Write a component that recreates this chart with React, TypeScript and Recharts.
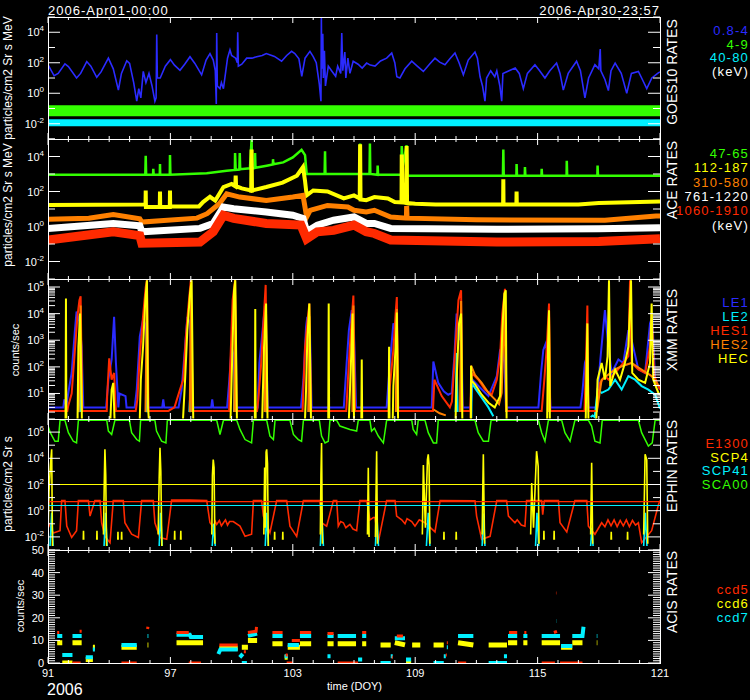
import React from "react";
import { LineChart, Line, XAxis, YAxis, ReferenceLine } from "recharts";

type Pt = [number, number] | null;

const FONT = "'Liberation Sans', Arial, sans-serif";
const BLUE = "#2b2bff";
const GREEN = "#33ff00";
const CYAN = "#00f0ff";
const YELLOW = "#ffff00";
const ORANGE = "#ff8000";
const RED = "#ff2a00";
const WHITE = "#ffffff";

// ---- axis ticks ----
const doyTicks = [
  91, 92, 93, 94, 95, 96, 97, 98, 99, 100, 101, 102, 103, 104, 105, 106, 107, 108, 109, 110,
  111, 112, 113, 114, 115, 116, 117, 118, 119, 120, 121,
];
const doyLabels = [91, 97, 103, 109, 115, 121];
const decadeTicks = [1e-3, 1e-2, 1e-1, 1, 10, 100, 1e3, 1e4, 1e5];
const decadeLabels = [1e-2, 1, 100, 1e4];
const xmmTicks = [
  2, 3, 4, 5, 6, 7, 8, 9, 10, 20, 30, 40, 50, 60, 70, 80, 90, 100, 200, 300, 400, 500, 600,
  700, 800, 900, 1000, 2000, 3000, 4000, 5000, 6000, 7000, 8000, 9000, 10000, 20000, 30000,
  40000, 50000, 60000, 70000, 80000, 90000, 100000,
];
const xmmLabels = [10, 100, 1000, 10000, 100000];
const ephinTicks = [1e-3, 1e-2, 1e-1, 1, 10, 100, 1e3, 1e4, 1e5, 1e6, 1e7];
const ephinLabels = [1e-2, 1, 100, 1e4, 1e6];
const acisTicks = [
  0, 1, 2, 3, 4, 5, 6, 7, 8, 9, 10, 11, 12, 13, 14, 15, 16, 17, 18, 19, 20, 21, 22, 23, 24, 25,
  26, 27, 28, 29, 30, 31, 32, 33, 34, 35, 36, 37, 38, 39, 40, 41, 42, 43, 44, 45, 46, 47, 48, 49, 50,
];
const acisLabels = [0, 10, 20, 30, 40, 50];

// ---- GOES10 (doy, rate) ----
const goesLow: Pt[] = [
  [91.0, 74], [91.3, 14], [91.5, 20], [91.83, 85], [92.0, 56], [92.4, 10], [92.6, 20], [92.9, 120],
  [93.1, 60], [93.39, 11], [93.6, 25], [93.96, 200], [94.2, 40], [94.45, 1.6], [94.6, 20], [94.86, 135],
  [95.0, 90], [95.2, 5], [95.35, 0.3], [95.45, 2], [95.55, 0.5], [95.67, 27], [95.8, 5], [95.95, 20],
  [96.1, 3], [96.24, 0.3], [96.3, 0.5], [96.33, 7000], [96.36, 10], [96.5, 10], [96.75, 60], [97.0, 160],
  [97.2, 70], [97.47, 32], [97.7, 80], [97.96, 250], [98.2, 90], [98.53, 16], [98.75, 150], [98.94, 400],
  [99.1, 150], [99.2, 30], [99.25, 0.2], [99.27, 9000], [99.3, 3], [99.43, 2], [99.5, 5], [99.6, 2],
  [99.8, 200], [99.92, 700], [100.0, 300], [100.2, 200], [100.28, 100], [100.3, 10000], [100.33, 60],
  [100.5, 80], [100.74, 200], [101.0, 200], [101.23, 250], [101.5, 300], [101.7, 400], [101.9, 320],
  [102.1, 260], [102.45, 126], [102.7, 300], [102.94, 560], [103.1, 400], [103.3, 180], [103.44, 13],
  [103.6, 200], [103.84, 560], [104.0, 250], [104.15, 100], [104.3, 4], [104.38, 0.3], [104.4, 100000],
  [104.42, 40], [104.47, 8000], [104.5, 10], [104.55, 600], [104.6, 3], [104.74, 60], [104.9, 30],
  [105.1, 13], [105.2, 60], [105.35, 20], [105.4, 9000], [105.45, 30], [105.55, 500], [105.6, 10],
  [105.7, 200], [105.8, 20], [105.96, 126], [106.2, 80], [106.4, 45], [106.62, 95], [106.8, 70],
  [107.03, 60], [107.3, 130], [107.6, 200], [107.85, 430], [108.0, 100], [108.1, 12], [108.25, 10],
  [108.5, 40], [108.83, 126], [109.1, 60], [109.4, 27], [109.7, 80], [109.97, 200], [110.2, 110],
  [110.46, 75], [110.7, 180], [110.95, 440], [111.15, 100], [111.36, 16], [111.6, 150], [111.93, 500],
  [112.05, 200], [112.18, 12], [112.3, 3], [112.42, 0.3], [112.5, 10], [112.7, 30], [112.9, 12],
  [113.0, 30], [113.15, 3], [113.24, 0.3], [113.3, 20], [113.6, 30], [113.9, 45], [114.1, 20],
  [114.3, 2], [114.5, 20], [114.87, 75], [115.1, 30], [115.36, 10], [115.6, 30], [115.93, 95],
  [116.1, 20], [116.26, 1.6], [116.5, 20], [116.91, 126], [117.1, 30], [117.32, 0.5], [117.5, 10],
  [117.81, 75], [118.0, 40], [118.07, 800], [118.1, 30], [118.3, 8], [118.47, 1.5], [118.6, 30],
  [118.8, 95], [119.1, 20], [119.37, 1], [119.6, 20], [119.94, 27], [120.1, 10], [120.35, 2],
  [120.6, 10], [120.9, 21], [121, 25],
];
const goesMid: Pt[] = [[91, 0.07], [101, 0.072], [111, 0.07], [121, 0.07]];
const goesHigh: Pt[] = [[91, 0.0117], [106, 0.0115], [121, 0.0117]];

// ---- ACE ----
const ace47: Pt[] = [
  [91, 900], [95.77, 900], [95.79, 11000], [95.81, 900], [96.15, 900], [96.16, 2000], [96.18, 900],
  [96.48, 900], [96.49, 3700], [96.5, 900], [96.97, 900], [96.98, 12000], [97.0, 900], [98.78, 1100],
  [99.76, 1550], [100.16, 1700], [100.17, 16000], [100.2, 1700], [100.38, 1800], [100.4, 16000],
  [100.42, 1900], [100.9, 2100], [100.98, 100000], [101.0, 2100], [101.14, 2200], [101.15, 16000],
  [101.17, 2300], [101.72, 3000], [102.02, 3500], [102.03, 7000], [102.05, 3600], [102.53, 4600],
  [103.0, 8800], [103.43, 24000], [103.6, 12000], [103.68, 1000], [104.56, 1000], [104.58, 20000],
  [104.6, 1000], [106.28, 1000], [106.3, 56000], [106.32, 1000], [106.76, 1000], [106.78, 56000],
  [106.8, 1000], [107.15, 900], [107.16, 3000], [107.18, 900], [108.32, 900], [108.34, 40000],
  [108.4, 3000], [108.58, 44000], [108.62, 800], [113.3, 800], [113.32, 25000], [113.34, 800],
  [113.96, 800], [113.97, 3700], [113.99, 800], [114.37, 800], [114.38, 2500], [114.4, 800],
  [115.19, 800], [115.2, 2000], [115.22, 800], [116.42, 800], [116.43, 5700], [116.45, 800],
  [117.93, 800], [117.94, 3000], [117.96, 800], [121, 800],
];
const ace112: Pt[] = [
  [91, 17], [95.7, 18], [95.78, 18], [95.79, 115], [95.8, 13], [96.48, 13], [96.49, 100], [96.5, 13],
  [96.97, 13], [96.98, 115], [96.99, 14], [98.4, 14], [98.6, 25], [98.94, 50], [99.2, 30], [99.6, 180],
  [100.0, 270], [100.18, 200], [100.2, 800], [100.22, 200], [100.5, 150], [100.96, 115], [100.98, 25000],
  [101.0, 115], [101.7, 180], [102.5, 320], [103.2, 800], [103.5, 2500], [103.6, 400], [103.68, 60],
  [104.0, 115], [104.7, 100], [105.5, 40], [106.0, 60], [106.28, 40], [106.3, 50000], [106.32, 35],
  [106.6, 32], [107.0, 48], [107.66, 40], [108.0, 25], [108.33, 24], [108.34, 13000], [108.4, 24],
  [108.57, 22], [108.58, 40000], [108.6, 22], [109.0, 20], [110, 18], [113.31, 18], [113.32, 500],
  [113.33, 18], [113.96, 18], [113.97, 100], [113.98, 18], [117, 18], [118, 22], [121, 27],
];
const ace310: Pt[] = [
  [91, 2.6], [93, 3], [94.2, 4.8], [95.5, 2.8], [95.6, 1.8], [98.3, 3], [98.8, 5.4], [99.4, 20],
  [99.76, 74], [100.4, 48], [101.7, 31], [103.0, 48], [103.5, 60], [103.68, 3.5], [103.85, 8.4],
  [104.7, 16], [105.7, 13], [106.0, 8.5], [106.6, 6.8], [107.0, 8.5], [107.8, 3.5], [108.57, 3],
  [108.58, 15], [108.6, 3], [112, 2.4], [118.3, 2.3], [120.8, 4], [121, 4],
];
const ace761: Pt[] = [
  [91, 0.78], [94.2, 1.5], [95.5, 1.1], [95.6, 0.5], [98.45, 0.78], [99.1, 1.5], [99.6, 13],
  [100.1, 10.4], [101.7, 6.8], [103.0, 4.4], [103.5, 2.9], [103.68, 0.5], [104.2, 1.2], [105.0, 2.3],
  [106.0, 3.5], [106.6, 1.5], [107.0, 1.5], [107.8, 0.78], [113, 0.7], [118, 0.75], [121, 0.85],
];
const ace1060: Pt[] = [
  [91, 0.17], [94.2, 0.5], [95.5, 0.3], [95.6, 0.11], [98.45, 0.13], [99.1, 0.5], [99.6, 4.4],
  [100.1, 2.9], [101.7, 1.5], [103.4, 1.2], [103.68, 0.2], [104.2, 0.5], [105.0, 0.6], [106.0, 1.2],
  [106.6, 0.5], [107.0, 0.4], [107.8, 0.17], [113, 0.13], [118, 0.14], [121, 0.2],
];

// ---- XMM ----
const xmmLe1: Pt[] = [
  [91, 3], [91.75, 3], [91.8, 6], [91.9, 3.5], [91.99, 10], [92.16, 60], [92.32, 2400], [92.4, 12000],
  [92.54, 5000], [92.65, 570], [92.73, 3], [93.85, 3], [93.96, 33], [94.12, 190], [94.24, 7600],
  [94.33, 140], [94.45, 3], [94.5, 10], [94.8, 8], [94.85, 3], [95.25, 3], [95.35, 14], [95.5, 1400],
  [95.67, 6600], [95.8, 3200], [95.92, 3], [96.6, 3], [96.65, 6], [96.7, 3], [97.4, 3], [97.55, 14],
  [97.72, 570], [97.83, 7600], [97.96, 4300], [98.09, 3], [99.0, 3], [99.05, 6], [99.1, 3], [99.78, 3],
  [99.89, 33], [100.0, 570], [100.08, 300], [100.22, 3], [101.28, 3], [101.36, 140], [101.47, 1000],
  [101.59, 8800], [101.69, 2400], [101.77, 3], [103.4, 3], [103.52, 33], [103.65, 3200], [103.71, 7600],
  [103.84, 2400], [103.92, 3], [105.5, 3], [105.64, 140], [105.75, 2400], [105.89, 13500], [106.0, 1800],
  [106.1, 3], [107.6, 3], [107.76, 140], [107.93, 4300], [108.04, 2400], [108.14, 3], [109.81, 3],
  [109.89, 160], [110.13, 25], [110.4, 12], [110.62, 9], [110.79, 10.5], [110.92, 250], [111.03, 10000],
  [111.15, 1000], [111.25, 7600], [111.33, 3], [111.72, 3], [111.8, 33], [112.1, 19], [112.59, 8],
  [113.0, 45], [113.16, 430], [113.27, 570], [113.37, 140], [113.45, 3], [115.04, 3], [115.17, 59],
  [115.28, 430], [115.4, 750], [115.53, 190], [115.63, 3], [117.1, 3], [117.19, 10], [117.32, 140],
  [117.42, 250], [117.49, 3], [117.9, 3], [118.06, 140], [118.3, 13500], [118.47, 570], [118.63, 59],
  [118.96, 190], [119.2, 140], [119.45, 2400], [119.61, 1000], [119.94, 80], [120.27, 59], [120.51, 4300],
  [120.62, 7600], [120.76, 33], [121, 14],
];
const xmmLe2: Pt[] = [
  [92.5, 2], [92.57, 50], [92.62, 2], null, [95.8, 2], [95.84, 10], [95.88, 2], null, [97.93, 2],
  [97.96, 6], [98.0, 2], null, [100.12, 2], [100.17, 250], [100.21, 2], null, [101.66, 2], [101.69, 8],
  [101.72, 2], null, [103.78, 2], [103.81, 10], [103.84, 2], null, [110.98, 2], [111.03, 330],
  [111.08, 2], null, [111.75, 1.2], [111.77, 25], [111.93, 16], [112.26, 7], [112.59, 3], [112.83, 1.4],
  null, [117.6, 1.3], [117.7, 1.5], [117.8, 1.3], [117.94, 14], [118.14, 10.5], [118.47, 14], [118.8, 33],
  [119.12, 14], [119.45, 45], [119.78, 33], [120.1, 19], [120.43, 14], [120.76, 9], [121, 2.7],
];
const xmmHes1: Pt[] = [
  [91, 2.2], [91.95, 2.2], [91.99, 3.4], [92.16, 10], [92.32, 430], [92.44, 7600], [92.54, 32000],
  [92.6, 45000], [92.68, 2.2], [93.88, 2.2], [93.9, 8], [94.0, 210], [94.12, 33], [94.24, 59],
  [94.33, 2.2], [95.3, 2.2], [95.38, 6], [95.5, 250], [95.67, 10000], [95.79, 100000], [95.85, 180000],
  [95.93, 2.2], [96.9, 2.2], [97.2, 3], [97.47, 14], [97.63, 33], [97.76, 1400], [97.88, 18000],
  [98.0, 180000], [98.09, 2.2], [99.88, 2.2], [99.92, 59], [100.05, 32000], [100.17, 180000],
  [100.25, 2.2], [101.25, 2.2], [101.31, 6], [101.44, 105], [101.56, 4300], [101.67, 120000],
  [101.75, 2.2], [103.48, 2.2], [103.6, 570], [103.71, 4300], [103.81, 24000], [103.9, 2.2],
  [105.62, 2.2], [105.72, 59], [105.84, 1800], [105.97, 48000], [106.05, 2.2], [107.7, 2.2],
  [107.76, 19], [107.93, 430], [108.04, 10000], [108.1, 42000], [108.17, 2.2], [109.87, 2.2],
  [109.94, 33], [110.3, 8], [110.7, 3], [110.8, 5], [110.95, 330], [111.12, 32000], [111.25, 75000],
  [111.31, 2.2], [111.7, 2.2], [111.77, 59], [112.1, 33], [112.42, 14], [112.75, 9], [113.0, 33],
  [113.16, 250], [113.27, 10000], [113.4, 86000], [113.48, 2.2], [115.2, 2.2], [115.33, 33],
  [115.45, 570], [115.56, 24000], [115.62, 2.2], [117.3, 2.2], [117.37, 140], [117.44, 20000],
  [117.49, 2.2], [117.9, 2.2], [118.06, 25], [118.3, 45], [118.47, 33], [118.8, 59], [119.2, 140],
  [119.45, 250], [119.53, 180000], [119.61, 140], [119.94, 80], [120.27, 59], [120.51, 570],
  [120.59, 10000], [120.72, 45], [120.92, 19], [121, 14],
];
const xmmHes2: Pt[] = [
  [92.5, 2], [92.56, 1000], [92.6, 20000], [92.66, 2], null, [95.78, 2], [95.84, 30000], [95.9, 2], null,
  [97.95, 2], [98.0, 50000], [98.06, 2], null, [100.13, 2], [100.17, 50000], [100.22, 2], null,
  [101.62, 2], [101.67, 20000], [101.72, 2], null, [103.76, 2], [103.81, 8000], [103.86, 2], null,
  [105.92, 2], [105.97, 20000], [106.02, 2], null, [108.05, 2], [108.1, 15000], [108.15, 2], null,
  [109.9, 2.5], [110.2, 1.8], [110.5, 1.5], null, [111.2, 2], [111.25, 30000], [111.3, 2], null,
  [111.72, 1.2], [111.74, 110], [111.93, 50], [112.26, 25], [112.59, 10.5], [112.91, 6], [113.11, 4],
  [113.24, 10.5], [113.37, 30000], [113.46, 2], null, [115.52, 2], [115.56, 8000], [115.6, 2], null,
  [117.9, 2], [118.14, 33], [118.8, 80], [119.12, 105], [119.61, 140], [119.94, 95], [120.27, 65],
  [120.59, 45], [120.92, 20], [121, 19],
];
const xmmHec: Pt[] = [
  [91.86, 1.15], [91.88, 37000], [91.9, 1.15], null, [92.45, 1.15], [92.49, 570], [92.57, 10000],
  [92.63, 33], [92.66, 1.15], null, [94.06, 1.15], [94.12, 14], [94.2, 25], [94.26, 1.15], null,
  [95.5, 1.15], [95.55, 33], [95.66, 570], [95.77, 32000], [95.85, 180000], [95.9, 3.4], [95.94, 1.15],
  null, [97.62, 1.15], [97.72, 33], [97.83, 2400], [97.96, 56000], [98.04, 180000], [98.12, 1.15], null,
  [99.95, 1.15], [100.0, 33], [100.12, 75000], [100.18, 180000], [100.26, 1.15], null, [101.14, 1.15],
  [101.16, 15000], [101.18, 1.15], null, [101.5, 1.15], [101.59, 570], [101.69, 24000], [101.76, 1.15],
  null, [103.6, 1.15], [103.65, 14], [103.71, 1000], [103.81, 24000], [103.89, 1.15], null,
  [104.74, 1.15], [104.76, 24000], [104.78, 1.15], null, [105.75, 1.15], [105.84, 80], [105.93, 10000],
  [106.0, 1.15], null, [106.36, 1.15], [106.38, 190], [106.4, 1.15], null, [107.7, 1.15], [107.72, 570],
  [107.74, 1.15], null, [107.9, 1.15], [107.93, 19], [108.04, 570], [108.1, 11000], [108.16, 1.15], null,
  [110.98, 1.15], [111.03, 33], [111.15, 4300], [111.25, 10000], [111.31, 1.15], null, [111.73, 1.15],
  [111.74, 110], [111.77, 30], [111.93, 22], [112.26, 9], [112.59, 4.5], [112.9, 3], [113.16, 8],
  [113.27, 2400], [113.37, 56000], [113.44, 75000], [113.48, 1.15], null, [115.47, 1.15], [115.51, 570],
  [115.56, 13500], [115.6, 1.15], null, [117.36, 1.15], [117.39, 33], [117.44, 4300], [117.49, 1.15],
  null, [117.88, 1.15], [117.94, 33], [118.14, 140], [118.3, 33], [118.43, 250], [118.5, 180000],
  [118.56, 19], [118.8, 80], [119.04, 33], [119.28, 140], [119.45, 570], [119.58, 180000], [119.64, 59],
  [119.94, 33], [120.27, 25], [120.51, 140], [120.59, 24000], [120.67, 33], [120.92, 10.5], [121, 9],
];

// ---- EPHIN ----
const ephE1300: Pt[] = [
  [91.02, 0.12], [91.26, 0.02], [91.59, 0.03], [91.67, 6], [91.83, 6], [91.92, 0.066], [92.16, 0.009],
  [92.4, 0.03], [92.49, 6], [92.98, 6], [93.06, 0.39], [93.3, 6], [93.55, 6], [93.63, 0.12],
  [93.79, 0.011], [94.04, 0.0036], [94.2, 6], [94.69, 6], [94.77, 0.12], [95.1, 0.016], [95.43, 0.009],
  [95.59, 6], [96.16, 6], [96.24, 0.12], [96.49, 0.009], [96.82, 0.0065], [97.06, 6.4], [97.96, 6.4],
  [98.78, 6], [98.94, 0.12], [99.1, 0.06], [99.2, 0.15], [99.27, 0.09], [99.4, 0.18], [99.5, 0.07],
  [99.6, 0.12], [99.7, 0.2], [99.8, 0.08], [99.9, 0.15], [100.08, 0.15], [100.41, 0.066],
  [100.66, 0.011], [100.98, 0.016], [101.07, 6], [101.47, 6], [101.56, 0.39], [101.88, 0.021],
  [102.21, 6], [102.7, 6], [102.86, 0.066], [103.19, 0.011], [103.52, 6], [104.33, 6], [104.41, 0.12],
  [104.66, 0.066], [104.99, 6], [105.15, 6], [105.23, 0.066], [105.35, 0.15], [105.48, 0.12],
  [105.6, 0.05], [105.8, 0.09], [105.95, 0.04], [106.13, 0.03], [106.29, 6], [106.62, 6], [106.78, 0.2],
  [106.95, 0.3], [107.03, 0.3], [107.19, 0.004], [107.6, 6], [108.01, 6], [108.09, 0.39], [108.34, 0.2],
  [108.5, 0.1], [108.6, 0.25], [108.83, 0.15], [108.99, 0.066], [109.2, 0.2], [109.48, 0.12],
  [109.97, 0.024], [110.22, 6], [111.93, 5.8], [112.01, 0.39], [112.26, 0.0065], [112.67, 0.011],
  [113.0, 6], [113.48, 6], [113.57, 0.39], [113.89, 0.12], [114.0, 0.2], [114.2, 0.08], [114.38, 0.066],
  [114.46, 6], [115.2, 6], [115.25, 0.5], [115.33, 6], [116.02, 6], [116.1, 0.12], [116.43, 0.024],
  [116.83, 6], [117.41, 6], [117.49, 0.066], [117.81, 0.016], [118.14, 0.12], [118.3, 0.06],
  [118.45, 0.2], [118.6, 0.07], [118.75, 0.2], [118.9, 0.06], [119.05, 0.18], [119.2, 0.07],
  [119.35, 0.2], [119.5, 0.06], [119.65, 0.18], [119.8, 0.08], [119.94, 0.12], [120.1, 0.0036],
  [120.59, 0.03], [120.92, 2.7], [121, 6],
];
const ephScp4: Pt[] = [
  [91.0, 0.01], [91.05, 30], [91.12, 3000], [91.18, 48000], [91.22, 0.002], null, [93.72, 0.015],
  [93.76, 200], [93.79, 48000], [93.83, 500], [93.87, 0.002], null, [96.4, 0.015], [96.45, 300],
  [96.49, 63000], [96.53, 1000], [96.58, 0.002], null, [99.03, 0.015], [99.06, 500], [99.1, 8000],
  [99.14, 2000], [99.18, 0.003], null, [101.58, 0.015], [101.62, 2000], [101.65, 0.05], [101.69, 30000],
  [101.72, 48000], [101.76, 4000], [101.8, 0.002], null, [104.35, 0.015], [104.38, 500],
  [104.41, 150000], [104.45, 0.003], null, [106.66, 0.015], [106.7, 1900], [106.74, 0.01], null,
  [107.05, 0.01], [107.11, 35000], [107.15, 0.003], null, [109.35, 0.015], [109.4, 3100], [109.5, 0.05],
  [109.6, 8000], [109.64, 20000], [109.68, 3000], [109.72, 0.003], null, [112.28, 0.015],
  [112.34, 20000], [112.4, 0.003], null, [114.66, 0.015], [114.71, 130], [114.8, 0.05], [114.95, 35000],
  [115.03, 2400], [115.07, 0.003], null, [117.6, 0.015], [117.65, 4600], [117.7, 0.003], null,
  [120.2, 0.015], [120.27, 20000], [120.35, 8000], [120.4, 0.003], null,
  // short blips around 1e-2
  [92.73, 0.006], [92.74, 0.03], [92.75, 0.006], null, [93.39, 0.006], [93.4, 0.03], [93.41, 0.006], null,
  [94.42, 0.006], [94.43, 0.025], [94.44, 0.006], null, [94.6, 0.006], [94.61, 0.025], [94.62, 0.006], null,
  [97.2, 0.006], [97.21, 0.03], [97.22, 0.006], null, [97.5, 0.006], [97.51, 0.03], [97.52, 0.006], null,
  [102.1, 0.006], [102.11, 0.025], [102.12, 0.006], null, [102.5, 0.006], [102.51, 0.025], [102.52, 0.006], null,
  [110.4, 0.006], [110.41, 0.025], [110.42, 0.006], null, [111.0, 0.006], [111.01, 0.025], [111.02, 0.006], null,
  [115.3, 0.006], [115.31, 0.03], [115.32, 0.006], null, [115.8, 0.006], [115.81, 0.03], [115.82, 0.006], null,
  [118.6, 0.006], [118.61, 0.025], [118.62, 0.006], null, [119.4, 0.006], [119.41, 0.025], [119.42, 0.006],
];
const ephScp41: Pt[] = [
  [91.1, 0.002], [91.18, 0.7], [91.25, 0.002], null, [93.75, 0.002], [93.82, 0.7], [93.9, 0.002], null,
  [96.45, 0.002], [96.52, 0.7], [96.6, 0.002], null, [99.05, 0.002], [99.12, 0.1], [99.2, 0.002], null,
  [101.65, 0.002], [101.72, 0.7], [101.8, 0.002], null, [104.35, 0.002], [104.42, 0.7], [104.5, 0.002],
  null, [107.05, 0.002], [107.12, 0.5], [107.2, 0.002], null, [109.55, 0.002], [109.64, 0.7],
  [109.72, 0.002], null, [112.28, 0.002], [112.35, 0.6], [112.42, 0.002], null, [114.9, 0.002],
  [114.97, 0.7], [115.05, 0.002], null, [117.6, 0.002], [117.66, 0.05], [117.72, 0.002], null,
  [120.2, 0.002], [120.28, 0.7], [120.36, 0.002],
];
const ephSca00: Pt[] = [
  [91, 3e6], [91.1, 1e6], [91.34, 2e5], [91.5, 2e5], [91.59, 8e6], [91.83, 8e6], [92.0, 9e5],
  [92.24, 2e5], [92.4, 1.5e5], [92.49, 8e6], [93.88, 8e6], [93.96, 1.2e6], [94.12, 6.6e5], [94.28, 8e6],
  [94.99, 8e6], [95.1, 9e5], [95.35, 2.7e5], [95.48, 2e5], [95.54, 8e6], [96.24, 8e6], [96.32, 1.2e6],
  [96.57, 2e5], [96.78, 1.5e5], [96.85, 8e6], [99.27, 8e6], [99.43, 6.6e5], [99.6, 8e6], [100.25, 8e6],
  [100.41, 1.6e6], [100.66, 2.7e5], [100.98, 1.5e5], [101.07, 8e6], [101.72, 8e6], [101.88, 5e5],
  [102.05, 2.7e5], [102.13, 8e6], [102.86, 8e6], [103.03, 6.6e5], [103.27, 2.7e5], [103.43, 2e5],
  [103.52, 8e6], [104.3, 8e6], [104.41, 5e5], [104.58, 1.5e5], [104.74, 2e5], [104.82, 8e6],
  [105.15, 8e6], [105.31, 2.9e6], [105.8, 1.6e6], [106.13, 1.2e6], [106.21, 8e6], [106.78, 8e6],
  [106.86, 1.2e6], [107.0, 2e6], [107.19, 5e5], [107.44, 1.5e5], [107.6, 8e6], [108.83, 8e6],
  [108.9, 1.6e6], [109.07, 6.6e5], [109.15, 8e6], [109.48, 8e6], [109.64, 9e5], [109.89, 1.5e5],
  [110.05, 1.5e5], [110.13, 8e6], [111.93, 8e6], [112.09, 9e5], [112.34, 2e5], [112.59, 2e5],
  [112.72, 8e6], [115.04, 8e6], [115.2, 9e5], [115.36, 2e5], [115.53, 8e6], [116.18, 8e6],
  [116.34, 9e5], [116.59, 2e5], [116.83, 8e6], [117.49, 8e6], [117.65, 2.9e6], [117.81, 2e5],
  [118.06, 1.5e5], [118.17, 8e6], [119.94, 8e6], [120.1, 9e5], [120.43, 8.5e4], [120.62, 1.5e5],
  [120.76, 8e6], [121, 8e6],
];
const ephLimitScp4 = 100;
const ephLimitE1300 = 5;
const ephLimitScp41 = 2.5;

// ---- ACIS ----
const acisCcd5: Pt[] = [
  [91.45, 13.5], [91.55, 13.5], null, [92.55, 14], [92.65, 14], null, [95.88, 15], [95.9, 16], null,
  [97.3, 13.5], [97.9, 13.5], null, [99.4, 8], [100.3, 8], null, [100.6, 5], [100.7, 5], null,
  [100.8, 13.5], [101.2, 14], [101.22, 16], null, [102.0, 13.5], [102.5, 13.5], null, [102.65, 3.5],
  [102.75, 3.5], null, [102.95, 10], [103.35, 10], null, [103.35, 13.5], [103.9, 13.5], null,
  [104.7, 13], [105.0, 13], null, [106.4, 13.5], [106.6, 13.5], null, [107.85, 2.5], [107.9, 2.5], null,
  [108.1, 12], [108.4, 12], null, [110.5, 3.5], [110.55, 3.5], null, [110.55, 9], [110.6, 9], null,
  [113.6, 13.5], [114.0, 13.5], null, [114.35, 13.5], [114.45, 13.5], null, [115.8, 13.5], [115.95, 14],
  null, [115.9, 31], [115.92, 31], null, [92.2, 0], [92.6, 0], null, [94.6, 0], [95.35, 0], null,
  [97.9, 0], [98.5, 0], null, [102.7, 0], [103.0, 0], null, [105.2, 0], [106.2, 0], null, [111.1, 0],
  [111.5, 0], null, [115.2, 0], [115.85, 0], null, [116.1, 0], [117.2, 0],
];
const acisCcd6: Pt[] = [
  [91.45, 9], [91.7, 9], null, [92.2, 9], [92.65, 9], null, [92.85, 1.5], [93.2, 1.5], null, [93.2, 7],
  [93.3, 7], null, [94.6, 7], [95.35, 7], null, [95.88, 8], [95.92, 8], null, [97.3, 9], [98.6, 9], null,
  [99.4, 6.5], [100.3, 6.5], null, [100.5, 7], [100.8, 7], null, [100.8, 10], [101.25, 10], null,
  [102.0, 8.5], [102.5, 8.5], null, [102.6, 2.5], [102.75, 2.5], null, [102.75, 7], [103.35, 7], null,
  [103.35, 8.5], [103.9, 8.5], null, [104.7, 8.5], [105.0, 8.5], null, [105.2, 8.5], [106.1, 8.5], null,
  [106.4, 8.5], [106.6, 8.5], null, [107.3, 8], [107.8, 8], null, [108.0, 9], [108.5, 8], null,
  [108.85, 8], [109.25, 8], null, [109.9, 8], [110.4, 8], null, [111.1, 9], [111.85, 8], null,
  [112.6, 8], [113.5, 8], null, [113.55, 9], [114.0, 9], null, [114.3, 9], [114.5, 9], null, [115.2, 9],
  [116.1, 9], null, [116.15, 7], [116.7, 7], null, [116.7, 9], [117.2, 9], null, [117.9, 9],
  [117.93, 9], null, [91.7, 0], [92.2, 0], null, [108.55, 0], [108.8, 0],
];
const acisCcd7: Pt[] = [
  [91.45, 12], [91.7, 12], null, [91.7, 3.5], [92.2, 3.5], null, [92.2, 12], [92.65, 12], null,
  [92.85, 2.5], [93.2, 2.5], null, [93.2, 6], [93.3, 6], null, [94.6, 8], [95.35, 8], null, [95.88, 12],
  [95.92, 12], null, [97.3, 12.5], [97.95, 12.5], [98.0, 11.5], [98.6, 11.5], null, [99.35, 4],
  [99.45, 6], [100.3, 6], null, [100.4, 2.5], [100.55, 4], null, [100.8, 12], [101.25, 13], null,
  [102.0, 12], [102.5, 12], null, [102.6, 3], [102.75, 3], null, [102.75, 8], [103.3, 8], null,
  [103.35, 12], [103.9, 12], null, [104.7, 12], [105.0, 12], null, [104.7, 3], [104.85, 3], null,
  [105.2, 12], [106.1, 12], null, [106.2, 1.5], [106.4, 1.5], null, [106.4, 12], [106.6, 12], null,
  [107.8, 3], [107.9, 3], null, [108.0, 11], [108.5, 11], null, [108.55, 1.5], [108.8, 1.5], null,
  [110.4, 3], [110.5, 3], null, [110.55, 7], [110.6, 7], null, [111.1, 12], [111.85, 12], null,
  [113.35, 3], [113.5, 3], null, [113.55, 12], [114.0, 12], null, [114.3, 12], [114.5, 12], null,
  [115.2, 12], [116.1, 12], null, [115.92, 18.6], [115.93, 18.6], null, [116.15, 7.5], [116.7, 7.5],
  null, [116.7, 12], [117.2, 12], [117.25, 16], null, [117.9, 12], [117.93, 12], null, [100.5, 0],
  [100.75, 0], null, [107.3, 0], [107.8, 0], null, [109.9, 0], [110.4, 0], null, [112.6, 0], [113.5, 0],
];

// ---- legends ----
const goesNames = ["0.8-4", "4-9", "40-80", "(keV)"];
const goesColors = [BLUE, GREEN, CYAN, WHITE];
const aceNames = ["47-65", "112-187", "310-580", "761-1220", "1060-1910", "(keV)"];
const aceColors = [GREEN, YELLOW, ORANGE, WHITE, RED, WHITE];
const xmmNames = ["LE1", "LE2", "HES1", "HES2", "HEC"];
const xmmColors = [BLUE, CYAN, RED, ORANGE, YELLOW];
const ephNames = ["E1300", "SCP4", "SCP41", "SCA00"];
const ephColors = [RED, YELLOW, CYAN, GREEN];
const acisNames = ["ccd5", "ccd6", "ccd7"];
const acisColors = [RED, YELLOW, CYAN];

const rows = (pts: Pt[]) => {
  let last = 91;
  return pts.map((p) => {
    if (!p) return { x: last, y: null };
    last = p[0];
    return { x: p[0], y: p[1] };
  });
};

const PLOT_L = 48;
const PLOT_R = 660;

const pow10 = (v: number) => {
  const e = Math.round(Math.log10(v));
  return (
    <>
      10<tspan dy={-5} fontSize={8}>{e}</tspan>
    </>
  );
};
const plain = (v: number) => <>{v}</>;

type PanelProps = {
  top: number;
  bottom: number;
  scale: "log" | "linear";
  domain: [number, number];
  ticks: number[];
  labelled: number[];
  fmt: (v: number) => React.ReactNode;
  xLabels?: boolean;
  children: React.ReactNode;
};

function Panel({ top, bottom, scale, domain, ticks, labelled, fmt, xLabels, children }: PanelProps) {
  const padT = 10;
  const padB = xLabels ? 24 : 6;
  const h = bottom - top;

  // axes get 1px of room (a 0px axis is not drawn), taken back from the margins
  const yTick = (p: any) => {
    const v = p.payload.value;
    const big = labelled.includes(v);
    const len = big ? 12 : 7;
    return (
      <g>
        <line x1={PLOT_L} x2={PLOT_L + len} y1={p.y} y2={p.y} stroke={WHITE} />
        <line x1={PLOT_R - len} x2={PLOT_R} y1={p.y} y2={p.y} stroke={WHITE} />
        {big && (
          <text x={PLOT_L - 4} y={p.y + 4} textAnchor="end" fill={WHITE} fontSize={11} fontFamily={FONT}>
            {fmt(v)}
          </text>
        )}
      </g>
    );
  };

  const xTick = (p: any) => {
    const v = p.payload.value;
    const big = doyLabels.includes(v);
    const len = big ? 6 : 3;
    const yb = padT + h;
    return (
      <g>
        <line x1={p.x} x2={p.x} y1={yb} y2={yb - len} stroke={WHITE} />
        <line x1={p.x} x2={p.x} y1={padT} y2={padT + len} stroke={WHITE} />
        {xLabels && big && (
          <text x={p.x} y={yb + 14} textAnchor="middle" fill={WHITE} fontSize={11} fontFamily={FONT}>
            {v}
          </text>
        )}
      </g>
    );
  };

  return (
    <div style={{ position: "absolute", left: 0, top: top - padT }}>
      <LineChart
        width={750}
        height={h + padT + padB}
        margin={{ top: padT, bottom: padB - 1, left: PLOT_L - 1, right: 750 - PLOT_R }}
      >
        <XAxis
          dataKey="x"
          type="number"
          domain={[91, 121]}
          ticks={doyTicks}
          interval={0}
          allowDataOverflow
          height={1}
          tickSize={0}
          tickMargin={0}
          axisLine={false}
          tickLine={false}
          tick={xTick}
        />
        <YAxis
          type="number"
          scale={scale}
          domain={domain}
          ticks={ticks}
          interval={0}
          allowDataOverflow
          width={1}
          tickSize={0}
          tickMargin={0}
          axisLine={false}
          tickLine={false}
          tick={yTick}
        />
        {children}
      </LineChart>
    </div>
  );
}

const series = (pts: Pt[], color: string, width: number) => (
  <Line
    data={rows(pts)}
    dataKey="y"
    stroke={color}
    strokeWidth={width}
    dot={false}
    connectNulls={false}
    isAnimationActive={false}
    type="linear"
  />
);

const FRAMES: [number, number][] = [[17, 139], [139, 279], [279, 419], [419, 550], [550, 663]];

function Legend({ names, colors, y0, step }: { names: string[]; colors: string[]; y0: number; step: number }) {
  return (
    <>
      {names.map((n, i) => (
        <text
          key={n}
          x={749}
          y={y0 + i * step}
          textAnchor="end"
          fill={colors[i]}
          fontSize={13}
          letterSpacing={1.2}
          fontFamily={FONT}
        >
          {n}
        </text>
      ))}
    </>
  );
}

function SideLabel({ x, y, text, size }: { x: number; y: number; text: string; size: number }) {
  return (
    <text
      transform={`translate(${x},${y}) rotate(-90)`}
      textAnchor="middle"
      fill={WHITE}
      fontSize={size}
      fontFamily={FONT}
    >
      {text}
    </text>
  );
}

export default function App() {
  return (
    <div style={{ position: "absolute", left: 0, top: 0, width: 750, height: 700, background: "#000", overflow: "hidden" }}>
      <Panel top={17} bottom={139} scale="log" domain={[1e-3, 1e5]} ticks={decadeTicks} labelled={decadeLabels} fmt={pow10}>
        {series(goesMid, GREEN, 11)}
        {series(goesHigh, CYAN, 7)}
        {series(goesLow, BLUE, 1.6)}
      </Panel>
      <Panel top={139} bottom={279} scale="log" domain={[1e-3, 1e5]} ticks={decadeTicks} labelled={decadeLabels} fmt={pow10}>
        {series(ace47, GREEN, 2.5)}
        {series(ace112, YELLOW, 4)}
        {series(ace310, ORANGE, 5)}
        {series(ace761, WHITE, 7)}
        {series(ace1060, RED, 9)}
      </Panel>
      <Panel top={279} bottom={419} scale="log" domain={[1.1, 200000]} ticks={xmmTicks} labelled={xmmLabels} fmt={pow10}>
        {series(xmmLe1, BLUE, 2)}
        {series(xmmLe2, CYAN, 2)}
        {series(xmmHes1, RED, 2)}
        {series(xmmHes2, ORANGE, 2)}
        {series(xmmHec, YELLOW, 2)}
      </Panel>
      <Panel top={419} bottom={550} scale="log" domain={[1e-3, 1e7]} ticks={ephinTicks} labelled={ephinLabels} fmt={pow10}>
        {series(ephSca00, GREEN, 1.5)}
        {series(ephE1300, RED, 1.6)}
        {series(ephScp41, CYAN, 1.6)}
        {series(ephScp4, YELLOW, 1.6)}
        <ReferenceLine y={ephLimitScp4} stroke={YELLOW} strokeWidth={1.2} />
        <ReferenceLine y={ephLimitE1300} stroke={RED} strokeWidth={1.2} />
        <ReferenceLine y={ephLimitScp41} stroke={CYAN} strokeWidth={1.2} />
      </Panel>
      <Panel top={550} bottom={663} scale="linear" domain={[0, 50]} ticks={acisTicks} labelled={acisLabels} fmt={plain} xLabels>
        {series(acisCcd6, YELLOW, 5)}
        {series(acisCcd7, CYAN, 4)}
        {series(acisCcd5, RED, 3)}
      </Panel>

      <svg width={750} height={700} style={{ position: "absolute", left: 0, top: 0, pointerEvents: "none" }}>
        {FRAMES.map(([t, b]) => (
          <rect key={t} x={PLOT_L + 0.5} y={t + 0.5} width={PLOT_R - PLOT_L} height={b - t} fill="none" stroke={WHITE} />
        ))}
        <text x={48} y={15} fill={WHITE} fontSize={13} letterSpacing={1} fontFamily={FONT}>2006-Apr01-00:00</text>
        <text x={660} y={15} textAnchor="end" fill={WHITE} fontSize={13} letterSpacing={1} fontFamily={FONT}>2006-Apr30-23:57</text>

        <SideLabel x={677} y={72} text="GOES10 RATES" size={14} />
        <SideLabel x={677} y={180} text="ACE RATES" size={14} />
        <SideLabel x={677} y={330} text="XMM RATES" size={14} />
        <SideLabel x={677} y={466} text="EPHIN RATES" size={14} />
        <SideLabel x={677} y={592} text="ACIS RATES" size={14} />

        <SideLabel x={12} y={78} text="particles/cm2 Sr s MeV" size={12} />
        <SideLabel x={12} y={205} text="particles/cm2 Sr s MeV" size={12} />
        <SideLabel x={19} y={350} text="counts/sec" size={11} />
        <SideLabel x={12} y={484} text="particles/cm2 Sr s" size={12} />
        <SideLabel x={24} y={606} text="counts/sec" size={11} />

        <Legend names={goesNames} colors={goesColors} y0={35} step={13.5} />
        <Legend names={aceNames} colors={aceColors} y0={158} step={14.3} />
        <Legend names={xmmNames} colors={xmmColors} y0={307} step={14} />
        <Legend names={ephNames} colors={ephColors} y0={448} step={13.7} />
        <Legend names={acisNames} colors={acisColors} y0={594} step={14} />

        <text x={327} y={690} fill={WHITE} fontSize={11} fontFamily={FONT}>time (DOY)</text>
        <text x={47} y={695} fill={WHITE} fontSize={16} fontFamily={FONT}>2006</text>
      </svg>
    </div>
  );
}
